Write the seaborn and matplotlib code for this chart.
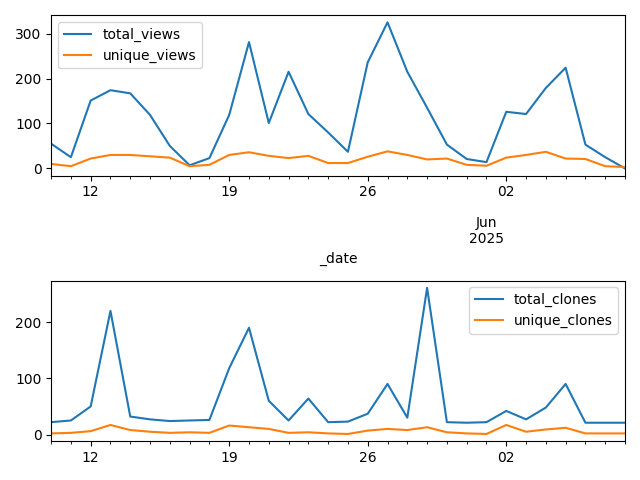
import pandas as pd
import matplotlib
matplotlib.use("Agg")
import matplotlib.pyplot as plt
import matplotlib.dates as mdates
import seaborn as sns

dates = pd.date_range("2025-05-10", "2025-06-08", freq="D")
total_views = [55, 25, 151, 174, 167, 119, 50, 7, 23, 119, 281, 101, 215, 121, 80, 37,
               236, 325, 215, 135, 53, 21, 14, 126, 121, 179, 224, 53, 25, 0]
unique_views = [10, 5, 22, 30, 30, 27, 24, 5, 8, 30, 36, 28, 23, 28, 12, 12,
                26, 38, 30, 20, 22, 8, 6, 24, 30, 37, 22, 21, 5, 3]
total_clones = [22, 25, 50, 220, 32, 27, 24, 25, 26, 118, 190, 60, 25, 64, 22, 23,
                37, 90, 30, 261, 22, 21, 22, 42, 27, 48, 90, 21, 21, 21]
unique_clones = [2, 3, 6, 17, 8, 5, 3, 4, 3, 16, 13, 10, 3, 4, 2, 1,
                 7, 10, 8, 13, 4, 2, 1, 17, 5, 9, 12, 2, 2, 2]

df = pd.DataFrame({"_date": dates, "total_views": total_views, "unique_views": unique_views,
                   "total_clones": total_clones, "unique_clones": unique_clones})

fig, (ax1, ax2) = plt.subplots(2, 1, figsize=(6.4, 4.8), dpi=100)

for ax, cols, loc in [(ax1, ["total_views", "unique_views"], "upper left"),
                      (ax2, ["total_clones", "unique_clones"], "upper right")]:
    for c in cols:
        sns.lineplot(data=df, x="_date", y=c, ax=ax, label=c)
    ax.set_xlim(dates[0], dates[-1])
    ax.set_ylabel("")
    ax.legend(loc=loc)
    majors = pd.to_datetime(["2025-05-12", "2025-05-19", "2025-05-26", "2025-06-02"])
    ax.set_xticks(majors)
    ax.set_xticklabels(["12", "19", "26", "02"])
    ax.xaxis.set_minor_locator(mdates.DayLocator())
    ax.xaxis.set_minor_formatter(mdates.DateFormatter(""))
    ax.set_xticks([pd.Timestamp("2025-06-01")], minor=True)
    ax.set_xticks(list(dates), minor=True)
    labels = ["" for _ in dates]
    labels[list(dates).index(pd.Timestamp("2025-06-01"))] = "\n\nJun\n2025"
    ax.set_xticklabels(labels, minor=True)

ax1.set_xlabel("_date")
ax2.set_xlabel("")
# hide the Jun label on lower axis only if not present in reference
ax2.set_xticklabels(["" for _ in dates], minor=True)

plt.tight_layout()
plt.savefig("out.png")
